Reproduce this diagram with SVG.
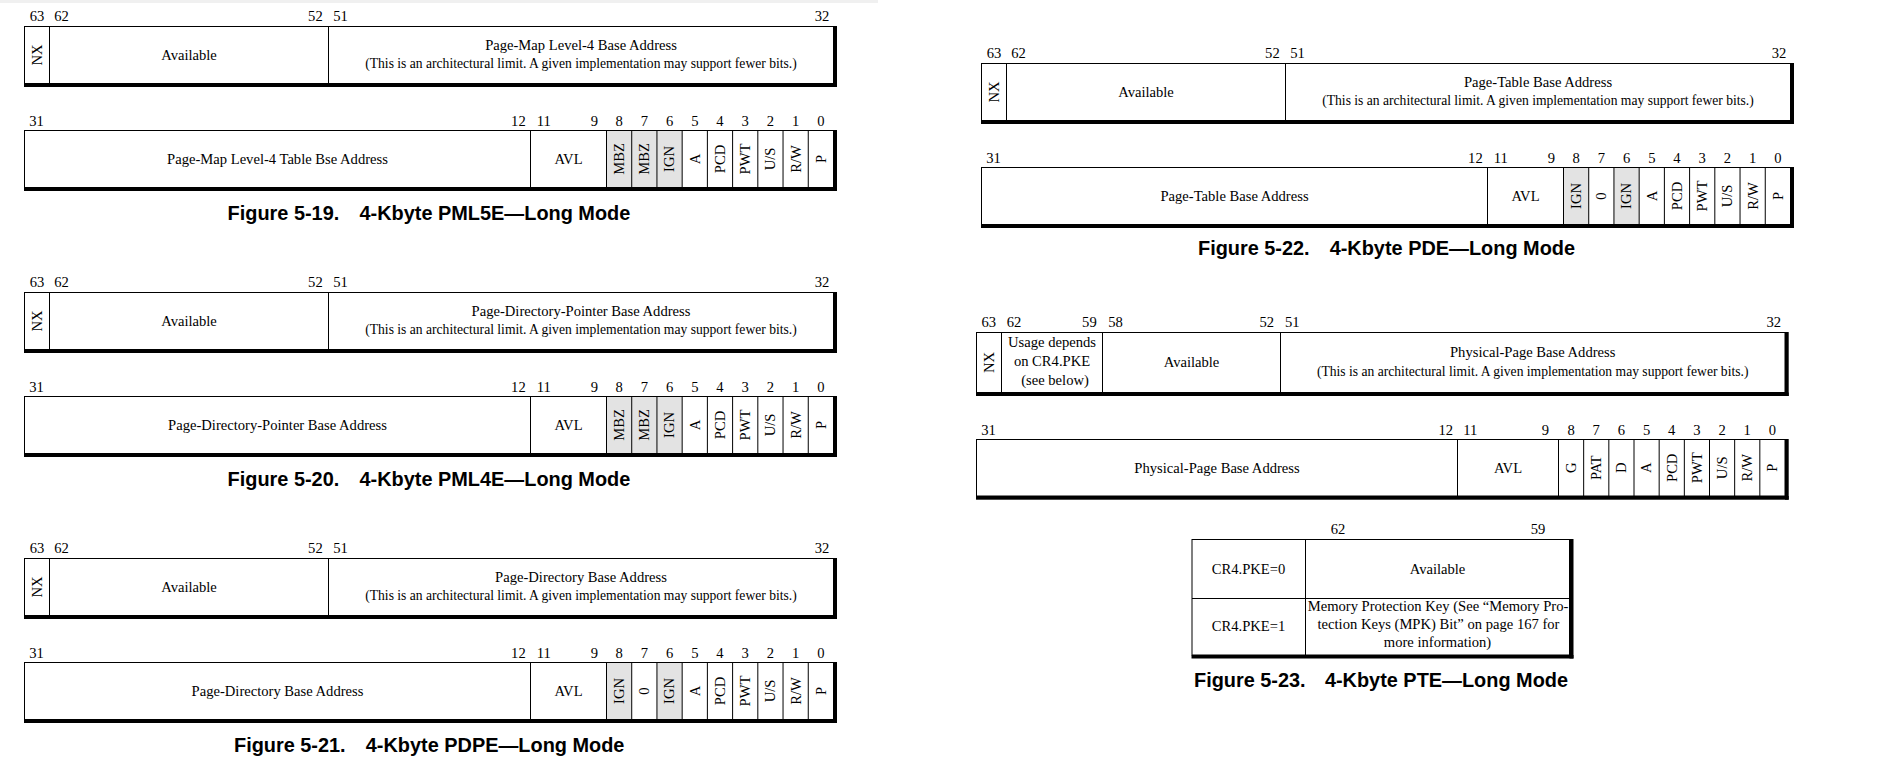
<svg xmlns="http://www.w3.org/2000/svg" width="1884" height="775" viewBox="0 0 1884 775">
<style>
.t{font-family:"Liberation Serif","Times New Roman",serif;font-size:14.6px;fill:#000}
.s{font-size:13.6px}
.m{text-anchor:middle}
.e{text-anchor:end}
.cap{font-family:"Liberation Sans",Arial,sans-serif;font-weight:bold;font-size:19.9px;fill:#000}
.ln{stroke:#000;stroke-width:1;fill:none}
.k{fill:#000}
.g{fill:#e3e3e3}
</style>
<rect x="0" y="0" width="1884" height="775" fill="#fff"/>
<rect x="0" y="0" width="878" height="3" fill="#f0f0f0"/>

<!-- Figure 5-19 -->
<g id="fig5-19">
  <g id="pml5e-high">
    <rect x="24.5" y="26.5" width="809" height="57" class="ln"/>
    <rect x="833.5" y="26" width="3.5" height="61" class="k"/>
    <rect x="24" y="83.5" width="813" height="3.5" class="k"/>
    <path d="M49.5,26.5V83.5M328.5,26.5V83.5" class="ln"/>
    <text class="t m" x="37" y="21">63</text>
    <text class="t" x="54.3" y="21">62</text>
    <text class="t e" x="322.7" y="21">52</text>
    <text class="t" x="333.3" y="21">51</text>
    <text class="t e" x="829.3" y="21">32</text>
    <text class="t m" transform="translate(41.8,55) rotate(-90)">NX</text>
    <text class="t m" x="189" y="59.8">Available</text>
    <text class="t m" x="581" y="49.5">Page-Map Level-4 Base Address</text>
    <text class="t s m" x="581" y="68">(This is an architectural limit. A given implementation may support fewer bits.)</text>
  </g>
  <g id="pml5e-low">
    <rect x="606.5" y="130.5" width="75.66" height="57" class="g"/>
    <rect x="24.5" y="130.5" width="809" height="57" class="ln"/>
    <rect x="833.5" y="130" width="3.5" height="61" class="k"/>
    <rect x="24" y="187.5" width="813" height="3.5" class="k"/>
    <path d="M530.5,130.5V187.5M606.5,130.5V187.5M631.72,130.5V187.5M656.94,130.5V187.5M682.16,130.5V187.5M707.38,130.5V187.5M732.6,130.5V187.5M757.82,130.5V187.5M783.04,130.5V187.5M808.26,130.5V187.5" class="ln"/>
    <text class="t" x="29.3" y="126">31</text>
    <text class="t e" x="525.7" y="126">12</text>
    <text class="t" x="536.7" y="126">11</text>
    <text class="t e" x="598" y="126">9</text>
    <text class="t m" x="619.1" y="126">8</text>
    <text class="t m" x="644.3" y="126">7</text>
    <text class="t m" x="669.6" y="126">6</text>
    <text class="t m" x="694.8" y="126">5</text>
    <text class="t m" x="720" y="126">4</text>
    <text class="t m" x="745.2" y="126">3</text>
    <text class="t m" x="770.4" y="126">2</text>
    <text class="t m" x="795.7" y="126">1</text>
    <text class="t m" x="820.9" y="126">0</text>
    <text class="t m" x="277.5" y="163.8">Page-Map Level-4 Table Bse Address</text>
    <text class="t m" x="568.5" y="163.8">AVL</text>
    <text class="t m" transform="translate(623.9,159) rotate(-90)">MBZ</text>
    <text class="t m" transform="translate(649.1,159) rotate(-90)">MBZ</text>
    <text class="t m" transform="translate(674.4,159) rotate(-90)">IGN</text>
    <text class="t m" transform="translate(699.6,159) rotate(-90)">A</text>
    <text class="t m" transform="translate(724.8,159) rotate(-90)">PCD</text>
    <text class="t m" transform="translate(750,159) rotate(-90)">PWT</text>
    <text class="t m" transform="translate(775.2,159) rotate(-90)">U/S</text>
    <text class="t m" transform="translate(800.5,159) rotate(-90)">R/W</text>
    <text class="t m" transform="translate(825.7,159) rotate(-90)">P</text>
  </g>
  <g id="cap5-19">
    <text class="cap" x="227.6" y="220">Figure 5-19.</text>
    <text class="cap e" x="630.3" y="220">4-Kbyte PML5E—Long Mode</text>
  </g>
</g>

<!-- Figure 5-20 -->
<g id="fig5-20" transform="translate(0,266)">
  <g id="pml4e-high">
    <rect x="24.5" y="26.5" width="809" height="57" class="ln"/>
    <rect x="833.5" y="26" width="3.5" height="61" class="k"/>
    <rect x="24" y="83.5" width="813" height="3.5" class="k"/>
    <path d="M49.5,26.5V83.5M328.5,26.5V83.5" class="ln"/>
    <text class="t m" x="37" y="21">63</text>
    <text class="t" x="54.3" y="21">62</text>
    <text class="t e" x="322.7" y="21">52</text>
    <text class="t" x="333.3" y="21">51</text>
    <text class="t e" x="829.3" y="21">32</text>
    <text class="t m" transform="translate(41.8,55) rotate(-90)">NX</text>
    <text class="t m" x="189" y="59.8">Available</text>
    <text class="t m" x="581" y="49.5">Page-Directory-Pointer Base Address</text>
    <text class="t s m" x="581" y="68">(This is an architectural limit. A given implementation may support fewer bits.)</text>
  </g>
  <g id="pml4e-low">
    <rect x="606.5" y="130.5" width="75.66" height="57" class="g"/>
    <rect x="24.5" y="130.5" width="809" height="57" class="ln"/>
    <rect x="833.5" y="130" width="3.5" height="61" class="k"/>
    <rect x="24" y="187.5" width="813" height="3.5" class="k"/>
    <path d="M530.5,130.5V187.5M606.5,130.5V187.5M631.72,130.5V187.5M656.94,130.5V187.5M682.16,130.5V187.5M707.38,130.5V187.5M732.6,130.5V187.5M757.82,130.5V187.5M783.04,130.5V187.5M808.26,130.5V187.5" class="ln"/>
    <text class="t" x="29.3" y="126">31</text>
    <text class="t e" x="525.7" y="126">12</text>
    <text class="t" x="536.7" y="126">11</text>
    <text class="t e" x="598" y="126">9</text>
    <text class="t m" x="619.1" y="126">8</text>
    <text class="t m" x="644.3" y="126">7</text>
    <text class="t m" x="669.6" y="126">6</text>
    <text class="t m" x="694.8" y="126">5</text>
    <text class="t m" x="720" y="126">4</text>
    <text class="t m" x="745.2" y="126">3</text>
    <text class="t m" x="770.4" y="126">2</text>
    <text class="t m" x="795.7" y="126">1</text>
    <text class="t m" x="820.9" y="126">0</text>
    <text class="t m" x="277.5" y="163.8">Page-Directory-Pointer Base Address</text>
    <text class="t m" x="568.5" y="163.8">AVL</text>
    <text class="t m" transform="translate(623.9,159) rotate(-90)">MBZ</text>
    <text class="t m" transform="translate(649.1,159) rotate(-90)">MBZ</text>
    <text class="t m" transform="translate(674.4,159) rotate(-90)">IGN</text>
    <text class="t m" transform="translate(699.6,159) rotate(-90)">A</text>
    <text class="t m" transform="translate(724.8,159) rotate(-90)">PCD</text>
    <text class="t m" transform="translate(750,159) rotate(-90)">PWT</text>
    <text class="t m" transform="translate(775.2,159) rotate(-90)">U/S</text>
    <text class="t m" transform="translate(800.5,159) rotate(-90)">R/W</text>
    <text class="t m" transform="translate(825.7,159) rotate(-90)">P</text>
  </g>
  <g id="cap5-20">
    <text class="cap" x="227.6" y="220">Figure 5-20.</text>
    <text class="cap e" x="630.3" y="220">4-Kbyte PML4E—Long Mode</text>
  </g>
</g>

<!-- Figure 5-21 -->
<g id="fig5-21" transform="translate(0,532)">
  <g id="pdpe-high">
    <rect x="24.5" y="26.5" width="809" height="57" class="ln"/>
    <rect x="833.5" y="26" width="3.5" height="61" class="k"/>
    <rect x="24" y="83.5" width="813" height="3.5" class="k"/>
    <path d="M49.5,26.5V83.5M328.5,26.5V83.5" class="ln"/>
    <text class="t m" x="37" y="21">63</text>
    <text class="t" x="54.3" y="21">62</text>
    <text class="t e" x="322.7" y="21">52</text>
    <text class="t" x="333.3" y="21">51</text>
    <text class="t e" x="829.3" y="21">32</text>
    <text class="t m" transform="translate(41.8,55) rotate(-90)">NX</text>
    <text class="t m" x="189" y="59.8">Available</text>
    <text class="t m" x="581" y="49.5">Page-Directory Base Address</text>
    <text class="t s m" x="581" y="68">(This is an architectural limit. A given implementation may support fewer bits.)</text>
  </g>
  <g id="pdpe-low">
    <rect x="606.5" y="130.5" width="25.22" height="57" class="g"/>
    <rect x="656.94" y="130.5" width="25.22" height="57" class="g"/>
    <rect x="24.5" y="130.5" width="809" height="57" class="ln"/>
    <rect x="833.5" y="130" width="3.5" height="61" class="k"/>
    <rect x="24" y="187.5" width="813" height="3.5" class="k"/>
    <path d="M530.5,130.5V187.5M606.5,130.5V187.5M631.72,130.5V187.5M656.94,130.5V187.5M682.16,130.5V187.5M707.38,130.5V187.5M732.6,130.5V187.5M757.82,130.5V187.5M783.04,130.5V187.5M808.26,130.5V187.5" class="ln"/>
    <text class="t" x="29.3" y="126">31</text>
    <text class="t e" x="525.7" y="126">12</text>
    <text class="t" x="536.7" y="126">11</text>
    <text class="t e" x="598" y="126">9</text>
    <text class="t m" x="619.1" y="126">8</text>
    <text class="t m" x="644.3" y="126">7</text>
    <text class="t m" x="669.6" y="126">6</text>
    <text class="t m" x="694.8" y="126">5</text>
    <text class="t m" x="720" y="126">4</text>
    <text class="t m" x="745.2" y="126">3</text>
    <text class="t m" x="770.4" y="126">2</text>
    <text class="t m" x="795.7" y="126">1</text>
    <text class="t m" x="820.9" y="126">0</text>
    <text class="t m" x="277.5" y="163.8">Page-Directory Base Address</text>
    <text class="t m" x="568.5" y="163.8">AVL</text>
    <text class="t m" transform="translate(623.9,159) rotate(-90)">IGN</text>
    <text class="t m" transform="translate(649.1,159) rotate(-90)">0</text>
    <text class="t m" transform="translate(674.4,159) rotate(-90)">IGN</text>
    <text class="t m" transform="translate(699.6,159) rotate(-90)">A</text>
    <text class="t m" transform="translate(724.8,159) rotate(-90)">PCD</text>
    <text class="t m" transform="translate(750,159) rotate(-90)">PWT</text>
    <text class="t m" transform="translate(775.2,159) rotate(-90)">U/S</text>
    <text class="t m" transform="translate(800.5,159) rotate(-90)">R/W</text>
    <text class="t m" transform="translate(825.7,159) rotate(-90)">P</text>
  </g>
  <g id="cap5-21">
    <text class="cap" x="234" y="220">Figure 5-21.</text>
    <text class="cap e" x="624.4" y="220">4-Kbyte PDPE—Long Mode</text>
  </g>
</g>

<!-- Figure 5-22 -->
<g id="fig5-22" transform="translate(957,37)">
  <g id="pde-high">
    <rect x="24.5" y="26.5" width="809" height="57" class="ln"/>
    <rect x="833.5" y="26" width="3.5" height="61" class="k"/>
    <rect x="24" y="83.5" width="813" height="3.5" class="k"/>
    <path d="M49.5,26.5V83.5M328.5,26.5V83.5" class="ln"/>
    <text class="t m" x="37" y="21">63</text>
    <text class="t" x="54.3" y="21">62</text>
    <text class="t e" x="322.7" y="21">52</text>
    <text class="t" x="333.3" y="21">51</text>
    <text class="t e" x="829.3" y="21">32</text>
    <text class="t m" transform="translate(41.8,55) rotate(-90)">NX</text>
    <text class="t m" x="189" y="59.8">Available</text>
    <text class="t m" x="581" y="49.5">Page-Table Base Address</text>
    <text class="t s m" x="581" y="68">(This is an architectural limit. A given implementation may support fewer bits.)</text>
  </g>
  <g id="pde-low">
    <rect x="606.5" y="130.5" width="25.22" height="57" class="g"/>
    <rect x="656.94" y="130.5" width="25.22" height="57" class="g"/>
    <rect x="24.5" y="130.5" width="809" height="57" class="ln"/>
    <rect x="833.5" y="130" width="3.5" height="61" class="k"/>
    <rect x="24" y="187.5" width="813" height="3.5" class="k"/>
    <path d="M530.5,130.5V187.5M606.5,130.5V187.5M631.72,130.5V187.5M656.94,130.5V187.5M682.16,130.5V187.5M707.38,130.5V187.5M732.6,130.5V187.5M757.82,130.5V187.5M783.04,130.5V187.5M808.26,130.5V187.5" class="ln"/>
    <text class="t" x="29.3" y="126">31</text>
    <text class="t e" x="525.7" y="126">12</text>
    <text class="t" x="536.7" y="126">11</text>
    <text class="t e" x="598" y="126">9</text>
    <text class="t m" x="619.1" y="126">8</text>
    <text class="t m" x="644.3" y="126">7</text>
    <text class="t m" x="669.6" y="126">6</text>
    <text class="t m" x="694.8" y="126">5</text>
    <text class="t m" x="720" y="126">4</text>
    <text class="t m" x="745.2" y="126">3</text>
    <text class="t m" x="770.4" y="126">2</text>
    <text class="t m" x="795.7" y="126">1</text>
    <text class="t m" x="820.9" y="126">0</text>
    <text class="t m" x="277.5" y="163.8">Page-Table Base Address</text>
    <text class="t m" x="568.5" y="163.8">AVL</text>
    <text class="t m" transform="translate(623.9,159) rotate(-90)">IGN</text>
    <text class="t m" transform="translate(649.1,159) rotate(-90)">0</text>
    <text class="t m" transform="translate(674.4,159) rotate(-90)">IGN</text>
    <text class="t m" transform="translate(699.6,159) rotate(-90)">A</text>
    <text class="t m" transform="translate(724.8,159) rotate(-90)">PCD</text>
    <text class="t m" transform="translate(750,159) rotate(-90)">PWT</text>
    <text class="t m" transform="translate(775.2,159) rotate(-90)">U/S</text>
    <text class="t m" transform="translate(800.5,159) rotate(-90)">R/W</text>
    <text class="t m" transform="translate(825.7,159) rotate(-90)">P</text>
  </g>
  <g id="cap5-22">
    <text class="cap" x="241" y="218">Figure 5-22.</text>
    <text class="cap e" x="618" y="218">4-Kbyte PDE—Long Mode</text>
  </g>
</g>

<!-- Figure 5-23 -->
<g id="fig5-23">
  <g id="pte-high">
    <rect x="976.5" y="332.5" width="808.5" height="60" class="ln"/>
    <rect x="1785" y="332" width="3.7" height="64" class="k"/>
    <rect x="976" y="392.5" width="812.7" height="3.5" class="k"/>
    <path d="M1001.5,332.5V392.5M1102.5,332.5V392.5M1280.5,332.5V392.5" class="ln"/>
    <text class="t m" x="988.8" y="327">63</text>
    <text class="t" x="1006.7" y="327">62</text>
    <text class="t e" x="1096.7" y="327">59</text>
    <text class="t" x="1108.3" y="327">58</text>
    <text class="t e" x="1274" y="327">52</text>
    <text class="t" x="1285" y="327">51</text>
    <text class="t e" x="1781" y="327">32</text>
    <text class="t m" transform="translate(993.8,362.5) rotate(-90)">NX</text>
    <text class="t m" x="1052" y="347">Usage depends</text>
    <text class="t m" x="1052" y="366">on CR4.PKE</text>
    <text class="t m" x="1055" y="385">(see below)</text>
    <text class="t m" x="1191.5" y="367">Available</text>
    <text class="t m" x="1532.7" y="357">Physical-Page Base Address</text>
    <text class="t s m" x="1532.7" y="375.7">(This is an architectural limit. A given implementation may support fewer bits.)</text>
  </g>
  <g id="pte-low">
    <rect x="976.5" y="439.5" width="808.5" height="56.5" class="ln"/>
    <rect x="1785" y="439" width="3.7" height="60.7" class="k"/>
    <rect x="976" y="496" width="812.7" height="3.7" class="k"/>
    <path d="M1457.5,439.5V496M1558.5,439.5V496M1583.67,439.5V496M1608.83,439.5V496M1634,439.5V496M1659.17,439.5V496M1684.33,439.5V496M1709.5,439.5V496M1734.67,439.5V496M1759.83,439.5V496" class="ln"/>
    <text class="t" x="981.3" y="435">31</text>
    <text class="t e" x="1453" y="435">12</text>
    <text class="t" x="1463.3" y="435">11</text>
    <text class="t e" x="1549" y="435">9</text>
    <text class="t m" x="1571.1" y="435">8</text>
    <text class="t m" x="1596.25" y="435">7</text>
    <text class="t m" x="1621.4" y="435">6</text>
    <text class="t m" x="1646.6" y="435">5</text>
    <text class="t m" x="1671.75" y="435">4</text>
    <text class="t m" x="1696.9" y="435">3</text>
    <text class="t m" x="1722.1" y="435">2</text>
    <text class="t m" x="1747.25" y="435">1</text>
    <text class="t m" x="1772.4" y="435">0</text>
    <text class="t m" x="1217" y="472.5">Physical-Page Base Address</text>
    <text class="t m" x="1508" y="472.5">AVL</text>
    <text class="t m" transform="translate(1575.9,467.8) rotate(-90)">G</text>
    <text class="t m" transform="translate(1601.05,467.8) rotate(-90)">PAT</text>
    <text class="t m" transform="translate(1626.2,467.8) rotate(-90)">D</text>
    <text class="t m" transform="translate(1651.4,467.8) rotate(-90)">A</text>
    <text class="t m" transform="translate(1676.55,467.8) rotate(-90)">PCD</text>
    <text class="t m" transform="translate(1701.7,467.8) rotate(-90)">PWT</text>
    <text class="t m" transform="translate(1726.9,467.8) rotate(-90)">U/S</text>
    <text class="t m" transform="translate(1752.05,467.8) rotate(-90)">R/W</text>
    <text class="t m" transform="translate(1777.2,467.8) rotate(-90)">P</text>
  </g>
  <g id="pte-pke-table">
    <rect x="1192" y="539.5" width="377.5" height="115.5" class="ln"/>
    <rect x="1569.5" y="539" width="4" height="119.5" class="k"/>
    <rect x="1191.5" y="655" width="382" height="3.5" class="k"/>
    <path d="M1192,598.5H1569.5M1305.5,539.5V655" class="ln"/>
    <text class="t m" x="1338" y="534">62</text>
    <text class="t m" x="1538" y="534">59</text>
    <text class="t m" x="1248.5" y="573.5">CR4.PKE=0</text>
    <text class="t m" x="1437.5" y="573.5">Available</text>
    <text class="t m" x="1248.5" y="631.3">CR4.PKE=1</text>
    <text class="t m" x="1438" y="611">Memory Protection Key (See “Memory Pro-</text>
    <text class="t m" x="1438.5" y="629">tection Keys (MPK) Bit” on page 167 for</text>
    <text class="t m" x="1437.5" y="647">more information)</text>
  </g>
  <g id="cap5-23">
    <text class="cap" x="1194" y="687">Figure 5-23.</text>
    <text class="cap e" x="1568" y="687">4-Kbyte PTE—Long Mode</text>
  </g>
</g>
<g id="connectors"/>
</svg>
